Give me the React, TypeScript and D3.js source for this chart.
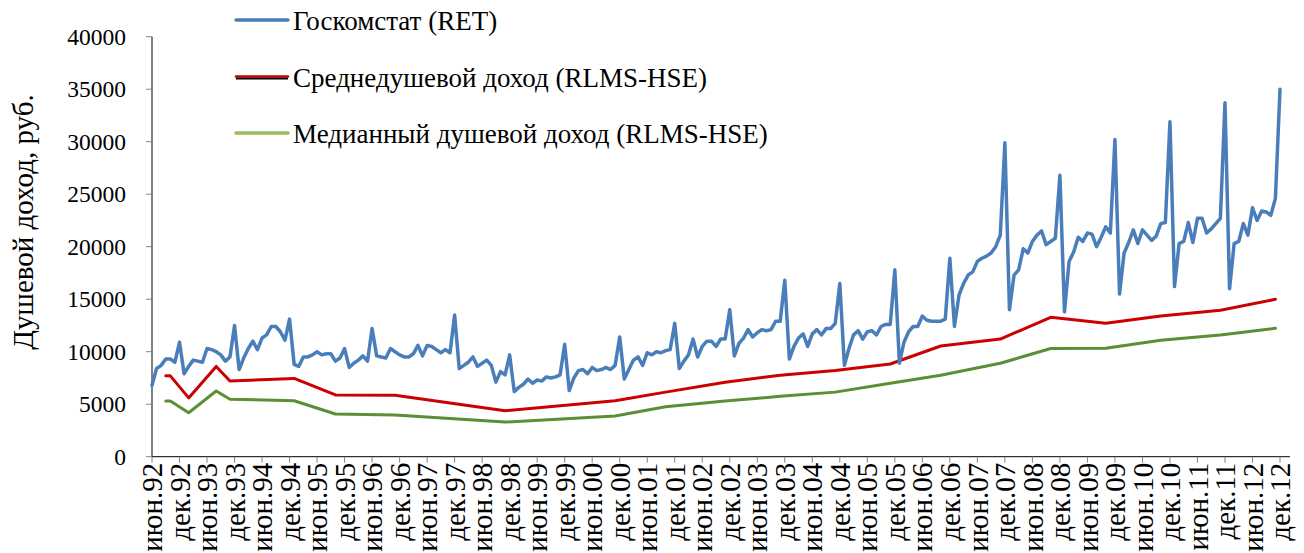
import React from 'react';
import * as d3 from 'd3';

// Госкомстат (RET), monthly, June 1992 .. December 2012
const retValues = [
  6800, 8400, 8700, 9300, 9300, 9000, 10900, 7900, 8600, 9200, 9100, 9000,
  10300, 10200, 10000, 9700, 9100, 9500, 12500, 8300, 9400, 10300, 11000, 10200,
  11300, 11600, 12400, 12400, 11900, 11100, 13100, 8800, 8600, 9500, 9500, 9700,
  10000, 9700, 9800, 9800, 9100, 9400, 10300, 8500, 8900, 9200, 9600, 9100,
  12200, 9600, 9500, 9400, 10300, 10000, 9700, 9500, 9500, 9800, 10600, 9600,
  10600, 10500, 10200, 9900, 10200, 9900, 13500, 8400, 8700, 9000, 9500, 8600,
  8900, 9200, 8700, 7100, 8100, 7800, 9700, 6200, 6600, 6900, 7400, 7000,
  7300, 7200, 7600, 7500, 7600, 7800, 10700, 6300, 7500, 8200, 8300, 7900,
  8500, 8200, 8300, 8500, 8300, 8700, 11400, 7400, 8300, 9200, 9500, 8700,
  9900, 9700, 10000, 9900, 10100, 10200, 12700, 8400, 9100, 9700, 11200, 9500,
  10500, 11000, 11000, 10500, 11200, 11200, 14000, 9600, 10800, 11300, 12100, 11400,
  11800, 12100, 12000, 12100, 12900, 12900, 16800, 9300, 10500, 11300, 11700, 10500,
  11700, 12100, 11600, 12200, 12200, 12700, 16500, 8700, 10300, 11600, 12000, 11200,
  11900, 12000, 11600, 12400, 12600, 12600, 17800, 8900, 10900, 11900, 12400, 12400,
  13400, 13000, 12900, 12900, 12900, 13100, 18900, 12400, 15400, 16500, 17300, 17600,
  18600, 18900, 19100, 19400, 20000, 21100, 29900, 14000, 17300, 17800, 19800, 19400,
  20500, 21100, 21500, 20200, 20500, 20800, 26800, 13800, 18600, 19500, 20900, 20500,
  21300, 21200, 20000, 20900, 21900, 21300, 30200, 15500, 19400, 20400, 21600, 20300,
  21600, 21100, 20600, 21000, 22200, 22300, 31900, 16200, 20300, 20500, 22300, 20400,
  22700, 22700, 21300, 21700, 22200, 22700, 33700, 16000, 20300, 20500, 22200, 21100,
  23700, 22500, 23400, 23300, 23000, 24600, 35000,
];

// RLMS-HSE rounds: month index counted from June 1992
const rlmsMonths = [3, 4, 8, 14, 17, 31, 40, 53, 77, 101, 112, 125, 137, 149, 161, 172, 185, 196, 208, 220, 233, 245];
const rlmsMean = [7700, 7700, 5600, 8600, 7200, 7450, 5880, 5850, 4380, 5330, 6150, 7100, 7750, 8200, 8830, 10540, 11200, 13270, 12700, 13400, 13950, 14990];
const rlmsMedian = [5300, 5300, 4190, 6260, 5470, 5330, 4070, 3970, 3300, 3880, 4760, 5300, 5750, 6150, 7000, 7750, 8900, 10300, 10330, 11100, 11600, 12230];

const tickLabels = [
  'июн.92', 'дек.92', 'июн.93', 'дек.93', 'июн.94', 'дек.94', 'июн.95', 'дек.95',
  'июн.96', 'дек.96', 'июн.97', 'дек.97', 'июн.98', 'дек.98', 'июн.99', 'дек.99',
  'июн.00', 'дек.00', 'июн.01', 'дек.01', 'июн.02', 'дек.02', 'июн.03', 'дек.03',
  'июн.04', 'дек.04', 'июн.05', 'дек.05', 'июн.06', 'дек.06', 'июн.07', 'дек.07',
  'июн.08', 'дек.08', 'июн.09', 'дек.09', 'июн.10', 'дек.10', 'июн.11', 'дек.11',
  'июн.12', 'дек.12',
];
const yTicks = [0, 5000, 10000, 15000, 20000, 25000, 30000, 35000, 40000];

const legendItems = [
  { label: 'Госкомстат (RET)', color: '#4a7ebb' },
  { label: 'Среднедушевой доход (RLMS-HSE)', color: '#c00000' },
  { label: 'Медианный душевой доход (RLMS-HSE)', color: '#9bbb59' },
];

const W = 1304;
const H = 553;
const font = '"Liberation Serif", "Times New Roman", serif';

export default function App() {
  const x = d3.scaleLinear().domain([0, 246]).range([152, 1280]);
  const y = d3.scaleLinear().domain([0, 40000]).range([456.7, 36.7]);

  const retLine = d3.line<number>().x((_, i) => x(i)).y((d) => y(d));
  const rlmsLine = d3
    .line<number>()
    .x((_, i) => x(rlmsMonths[i]))
    .y((d) => y(d));

  const y0 = y(0);

  return (
    <svg width={W} height={H} style={{ position: 'absolute', left: 0, top: 0, background: '#fff' }} fontFamily={font}>
      {/* y axis */}
      <line x1={152} x2={152} y1={y(40000)} y2={y0} stroke="#000" strokeWidth={1} />
      {yTicks.map((t) => (
        <g key={t}>
          <line x1={146} x2={152} y1={y(t)} y2={y(t)} stroke="#808080" strokeWidth={1} />
          <text x={126} y={y(t)} dy="0.35em" textAnchor="end" fontSize={23.5} fill="#000">
            {t}
          </text>
        </g>
      ))}
      <text transform="translate(33,222) rotate(-90)" textAnchor="middle" fontSize={29} fill="#000">
        Душевой доход, руб.
      </text>

      {/* x axis */}
      <line x1={152} x2={1290} y1={y0} y2={y0} stroke="#000" strokeWidth={1} />
      {tickLabels.map((lab, i) => {
        const tx = x(i * 6);
        return (
          <g key={lab}>
            <line x1={tx} x2={tx} y1={y0} y2={y0 + 6} stroke="#808080" strokeWidth={1} />
            <text
              transform={`translate(${tx},${y0 + 6}) rotate(-90)`}
              textAnchor="end"
              dy="0.35em"
              fontSize={29}
              fill="#000"
            >
              {lab}
            </text>
          </g>
        );
      })}

      {/* series */}
      <path d={rlmsLine(rlmsMedian) ?? ''} fill="none" stroke="#5a8f35" strokeWidth={3} strokeLinejoin="round" strokeLinecap="round" />
      <path d={rlmsLine(rlmsMean) ?? ''} fill="none" stroke="#cc0000" strokeWidth={3} strokeLinejoin="round" strokeLinecap="round" />
      <path d={retLine(retValues) ?? ''} fill="none" stroke="#4a7ebb" strokeWidth={3.5} strokeLinejoin="round" strokeLinecap="round" />

      {/* legend */}
      {legendItems.map((it, i) => {
        const ly = 20 + i * 56.5;
        return (
          <g key={it.label}>
            {i === 1 && <line x1={236} x2={288} y1={ly + 2} y2={ly + 2} stroke="#000" strokeWidth={2} />}
            <line x1={236} x2={288} y1={ly} y2={ly} stroke={it.color} strokeWidth={i === 1 ? 2.5 : 3.5} strokeLinecap="round" />
            <text x={293} y={ly + 1} dy="0.35em" fontSize={27} fill="#000">
              {it.label}
            </text>
          </g>
        );
      })}
    </svg>
  );
}
